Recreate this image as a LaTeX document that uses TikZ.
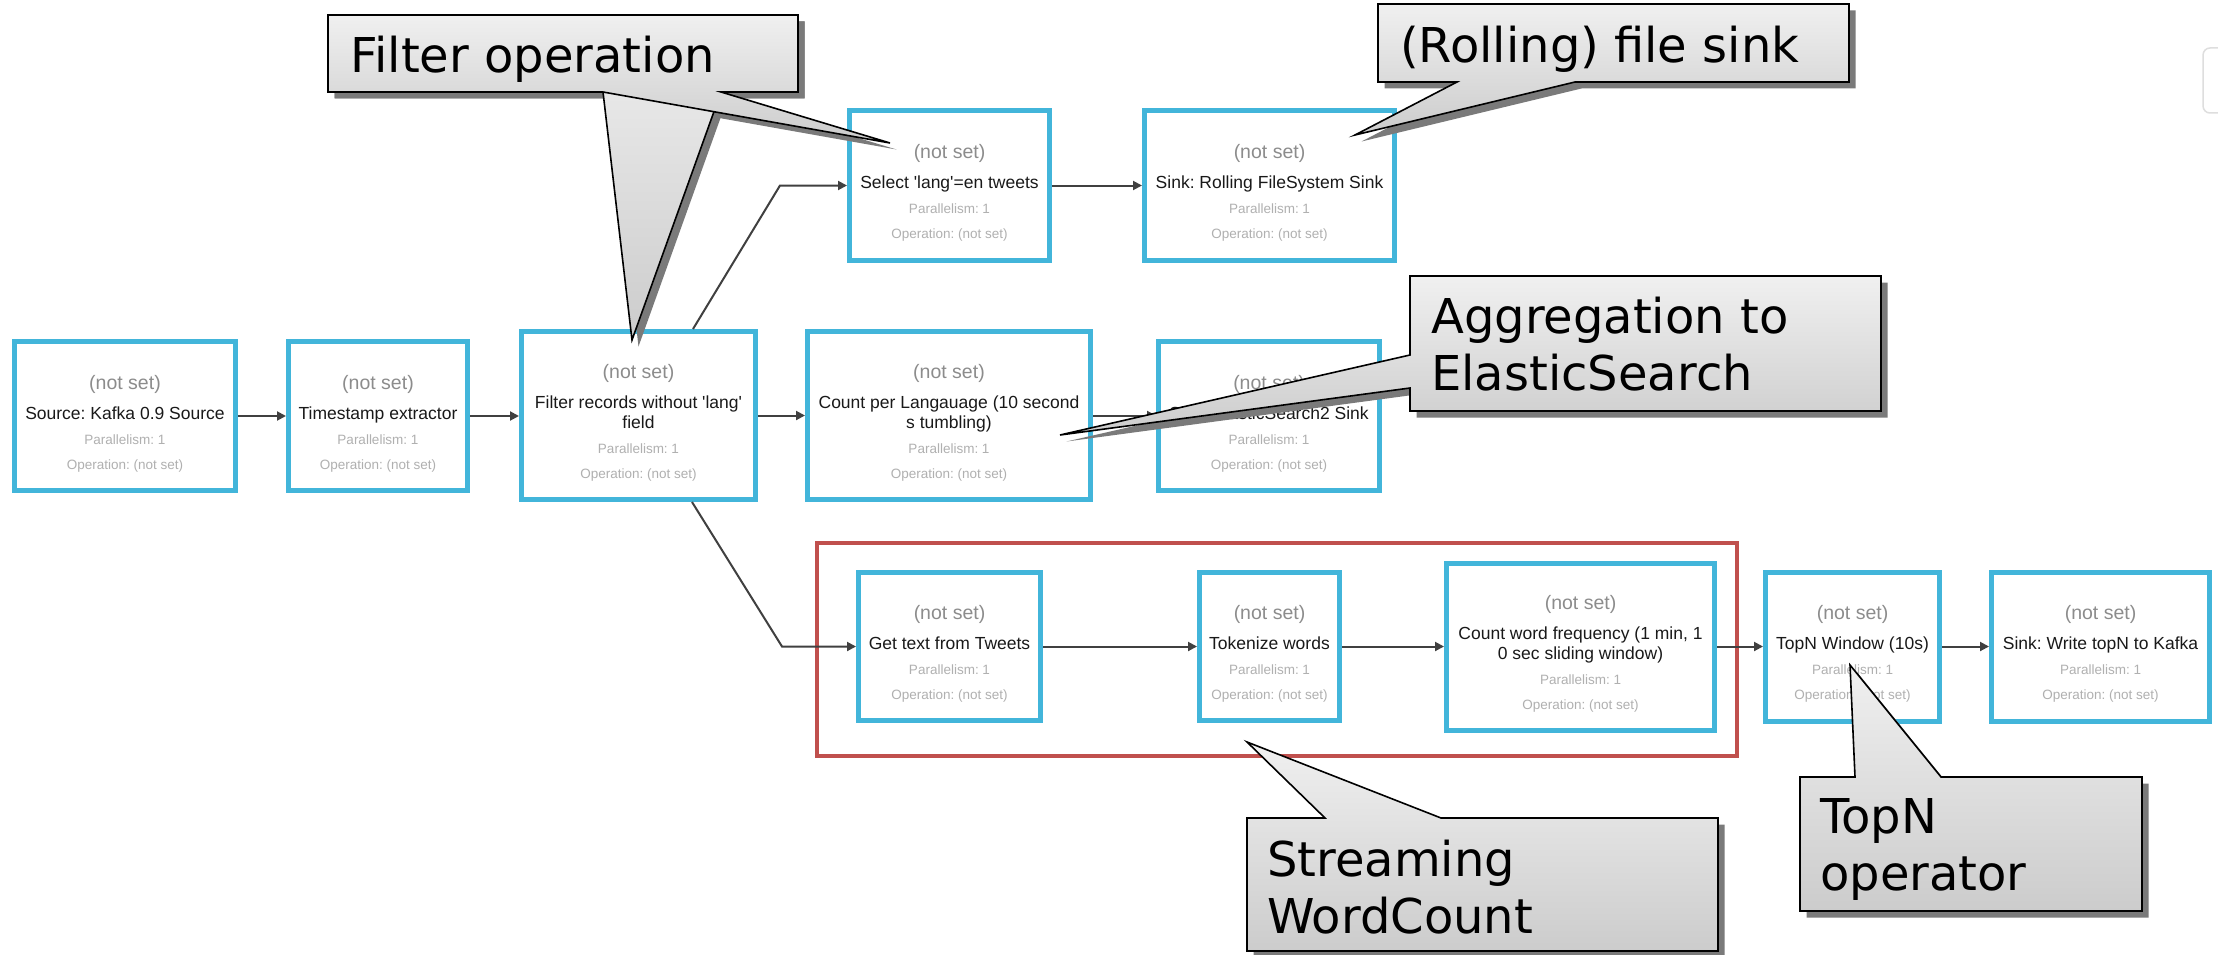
\documentclass[tikz,border=0pt]{standalone}
\usepackage{fontspec}
\setmainfont{Liberation Sans}
\newfontfamily\calfont{DejaVu Sans}
\usetikzlibrary{arrows.meta}

\definecolor{opBlue}{RGB}{66,181,218}
\definecolor{groupRed}{RGB}{192,80,77}
\definecolor{notsetGray}{RGB}{140,140,140}
\definecolor{metaGray}{RGB}{176,176,176}
\definecolor{labelInk}{RGB}{25,25,25}
\definecolor{edgeGray}{RGB}{64,64,64}
\definecolor{calTop}{RGB}{240,240,240}
\definecolor{calBot}{RGB}{204,204,204}
\definecolor{calShadow}{RGB}{122,122,122}
\definecolor{faintFrame}{RGB}{222,222,222}

% text lines of an operator box
\newcommand\nsline{{\fontsize{19.5}{25}\selectfont\color{notsetGray}\rule{0pt}{28.8pt}(not set)}}
\newcommand\oplabel[1]{{\fontsize{17.5}{25}\selectfont\color{labelInk}#1}}
\newcommand\opmeta{{\color{metaGray}Parallelism: 1}\\{\color{metaGray}Operation: (not set)}}
\newcommand\sq{\textquotesingle}

% outlines of the speech-bubble notes
\newcommand\cpFilterA{(328,15) -- (798,15) -- (798,92) -- (721,92) -- (632,340) -- (603,92) -- (328,92) -- cycle}
\newcommand\cpFilterB{(328,15) -- (798,15) -- (798,92) -- (721,92) -- (890,143) -- (603,92) -- (328,92) -- cycle}
\newcommand\cpRolling{(1378,4) -- (1849,4) -- (1849,82) -- (1575,82) -- (1355,135) -- (1457,82) -- (1378,82) -- cycle}
\newcommand\cpAggr{(1410,276) -- (1881,276) -- (1881,411) -- (1410,411) -- (1410,388) -- (1060,435) -- (1410,355) -- cycle}
\newcommand\cpStream{(1247,818) -- (1325,818) -- (1247,742) -- (1441,818) -- (1718,818) -- (1718,951) -- (1247,951) -- cycle}
\newcommand\cpTopN{(1800,777) -- (1855,777) -- (1850,665) -- (1941,777) -- (2142,777) -- (2142,911) -- (1800,911) -- cycle}

\begin{document}
\frenchspacing
\begin{tikzpicture}[x=1pt,y=-1pt,
  opbox/.style={draw=opBlue, line width=5pt, fill=white, align=center,
    font=\fontsize{13.5}{25}\selectfont, inner sep=0pt},
  flow/.style={draw=edgeGray, line width=2pt, -{Triangle[length=9pt,width=9pt]}},
  groupframe/.style={draw=groupRed, line width=4pt},
  noteshadow/.style={fill=calShadow, xshift=6.5pt, yshift=-6.5pt},
  noteshape/.style={draw=black, line width=1.6pt, top color=calTop, bottom color=calBot},
  notetext/.style={font=\calfont\fontsize{48}{57}\selectfont, inner sep=0pt,
    align=left, anchor=base west, text=black}]

\useasboundingbox (0,0) rectangle (2218,955);
\fill[white] (0,0) rectangle (2218,955);

% partly visible frame at the right edge
\draw[faintFrame, line width=1.5pt, rounded corners=7pt] (2203,48) rectangle (2250,113);

% group of the word-count operators
\draw[groupframe] (817,543) rectangle (1737,756);

% operators
\node[opbox, minimum width=221pt, minimum height=149pt] (src) at (125,416)
  {\nsline\\[5pt]\oplabel{Source: Kafka 0.9 Source}\\\opmeta};
\node[opbox, minimum width=179pt, minimum height=149pt] (ts) at (378,416)
  {\nsline\\[5pt]\oplabel{Timestamp extractor}\\\opmeta};
\node[opbox, minimum width=234pt, minimum height=168pt] (filter) at (638.5,415.5)
  {\nsline\\[5pt]\oplabel{Filter records without \sq lang\sq}\\[-5.5pt]\oplabel{field}\\\opmeta};
\node[opbox, minimum width=283pt, minimum height=168pt] (count) at (949,415.5)
  {\nsline\\[5pt]\oplabel{Count per Langauage (10 second}\\[-5.5pt]\oplabel{s tumbling)}\\\opmeta};
\node[opbox, minimum width=221pt, minimum height=149pt] (es) at (1269,416)
  {\nsline\\[5pt]\oplabel{Sink: ElasticSearch2 Sink}\\\opmeta};
\node[opbox, minimum width=200pt, minimum height=150pt] (select) at (949.5,185.5)
  {\nsline\\[5pt]\oplabel{Select \sq lang\sq=en tweets}\\\opmeta};
\node[opbox, minimum width=250pt, minimum height=150pt] (rolling) at (1269.5,185.5)
  {\nsline\\[5pt]\oplabel{Sink: Rolling FileSystem Sink}\\\opmeta};
\node[opbox, minimum width=182pt, minimum height=148pt] (gettext) at (949.5,646.5)
  {\nsline\\[5pt]\oplabel{Get text from Tweets}\\\opmeta};
\node[opbox, minimum width=140pt, minimum height=148pt] (tokenize) at (1269.5,646.5)
  {\nsline\\[5pt]\oplabel{Tokenize words}\\\opmeta};
\node[opbox, minimum width=268pt, minimum height=167pt] (wordfreq) at (1580.5,646.5)
  {\nsline\\[5pt]\oplabel{Count word frequency (1 min, 1}\\[-5.5pt]\oplabel{0 sec sliding window)}\\\opmeta};
\node[opbox, minimum width=174pt, minimum height=149pt] (topn) at (1852.5,646.5)
  {\nsline\\[5pt]\oplabel{TopN Window (10s)}\\\opmeta};
\node[opbox, minimum width=218pt, minimum height=149pt] (kafka) at (2100.5,646.5)
  {\nsline\\[5pt]\oplabel{Sink: Write topN to Kafka}\\\opmeta};

% data flow
\draw[flow] (src) -- (ts);
\draw[flow] (ts.east) -- (ts.east -| filter.west);
\draw[flow] (filter) -- (count);
\draw[flow] (count.east) -- (count.east -| es.west);
\draw[flow] ([xshift=54.5pt]filter.north) -- ([xshift=-67pt]select.west) -- (select.west);
\draw[flow] (select) -- (rolling);
\draw[flow] ([xshift=53.5pt]filter.south) -- ([xshift=-74pt]gettext.west) -- (gettext.west);
\draw[flow] (gettext) -- (tokenize);
\draw[flow] (tokenize) -- (wordfreq);
\draw[flow] (wordfreq) -- (topn);
\draw[flow] (topn) -- (kafka);

% notes: shadows first, then the bubbles, then their text
\fill[noteshadow] \cpFilterA;
\fill[noteshadow] \cpFilterB;
\fill[noteshadow] \cpRolling;
\fill[noteshadow] \cpAggr;
\fill[noteshadow] \cpStream;
\fill[noteshadow] \cpTopN;

\draw[noteshape] \cpFilterA;
\draw[noteshape] \cpFilterB;
\draw[noteshape] \cpRolling;
\draw[noteshape] \cpAggr;
\draw[noteshape] \cpStream;
\draw[noteshape] \cpTopN;

% the base of a two-line note is its last line
\node[notetext] (filterNote) at (350,73) {Filter operation};
\node[notetext] (rollingNote) at (1400,63) {(Rolling) file sink};
\node[notetext] (aggrNote) at (1431,390) {Aggregation to\\ElasticSearch};
\node[notetext] (streamNote) at (1267,933) {Streaming\\WordCount};
\node[notetext] (topnNote) at (1820,890) {TopN\\operator};

\end{tikzpicture}
\end{document}
